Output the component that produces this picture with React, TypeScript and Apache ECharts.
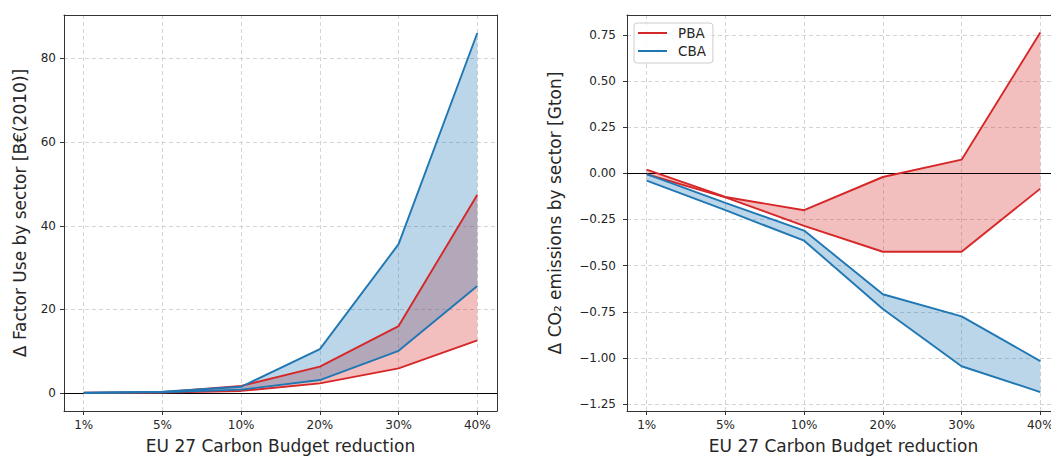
import React, { useEffect, useRef } from "react";
import * as echarts from "echarts";

const categories = ["1%", "5%", "10%", "20%", "30%", "40%"];
const categoryIdx = [0, 1, 2, 3, 4, 5];

// Left panel: Δ Factor Use by sector [B€(2010)]
const factorPbaHigh = [0.05, 0.2, 1.7, 6.3, 16.0, 47.4];
const factorPbaLow = [0.0, 0.1, 0.5, 2.3, 5.9, 12.6];
const factorCbaHigh = [0.1, 0.3, 1.5, 10.5, 35.6, 86.1];
const factorCbaLow = [0.0, 0.2, 0.8, 3.1, 10.1, 25.6];
const factorTicks = [0, 20, 40, 60, 80];

// Right panel: Δ CO2 emissions by sector [Gton]
const co2PbaA = [0.02, -0.128, -0.2, -0.02, 0.074, 0.763];
const co2PbaB = [-0.005, -0.13, -0.285, -0.425, -0.425, -0.083];
const co2CbaHigh = [-0.005, -0.16, -0.31, -0.655, -0.775, -1.017];
const co2CbaLow = [-0.04, -0.2, -0.365, -0.735, -1.045, -1.185];
const co2Ticks = [-1.25, -1.0, -0.75, -0.5, -0.25, 0, 0.25, 0.5, 0.75];

const RED = "#d62728";
const BLUE = "#1f77b4";
const RED_FILL = "rgba(214,39,40,0.3)";
const BLUE_FILL = "rgba(31,119,180,0.3)";
const FONT = "DejaVu Sans";
const FRAME = "#333333";
const GRIDC = "#d3d3d3";

const toPairs = (arr: number[]) => arr.map((v, i) => [categoryIdx[i], v]);

function fillSeries(name: string, a: number[], b: number[], axis: number, fill: string, z: number) {
  return {
    type: "custom",
    name: name + "_fill",
    xAxisIndex: axis,
    yAxisIndex: axis,
    z,
    silent: true,
    data: toPairs(a),
    encode: { x: 0, y: 1 },
    renderItem: (params: any, api: any) => {
      if (params.dataIndex !== 0) return null;
      const pts: number[][] = [];
      for (let i = 0; i < a.length; i++) pts.push(api.coord([categoryIdx[i], a[i]]));
      for (let i = b.length - 1; i >= 0; i--) pts.push(api.coord([categoryIdx[i], b[i]]));
      return { type: "polygon", shape: { points: pts }, style: { fill, stroke: "none" } };
    },
  };
}

function lineSeries(name: string, arr: number[], axis: number, color: string, z: number, extra: any = {}) {
  return {
    type: "line",
    name,
    xAxisIndex: axis,
    yAxisIndex: axis,
    z,
    data: toPairs(arr),
    showSymbol: false,
    symbol: "none",
    lineStyle: { color, width: 1.9 },
    itemStyle: { color },
    ...extra,
  };
}

const zeroLine = {
  silent: true,
  symbol: "none",
  label: { show: false },
  lineStyle: { color: "#000", width: 1.2, type: "solid" },
  data: [{ yAxis: 0 }],
};

function xAxes(gridIndex: number) {
  return [
    {
      type: "value",
      gridIndex,
      min: -0.25,
      max: 5.25,
      position: "bottom",
      axisLine: { show: true, onZero: false, lineStyle: { color: FRAME, width: 1 } },
      axisTick: { show: true, length: 4, customValues: categoryIdx, lineStyle: { color: FRAME } },
      axisLabel: {
        customValues: categoryIdx,
        formatter: (v: number) => categories[Math.round(v)] ?? "",
        fontFamily: FONT,
        fontSize: 12,
        color: "#262626",
        margin: 8,
      },
      splitLine: { show: true, lineStyle: { color: GRIDC, type: [4, 3], width: 1 } },
      name: "EU 27 Carbon Budget reduction",
      nameLocation: "middle",
      nameGap: 26,
      nameTextStyle: { fontFamily: FONT, fontSize: 17, color: "#262626" },
    },
    {
      type: "value",
      gridIndex,
      min: -0.25,
      max: 5.25,
      position: "top",
      axisLine: { show: true, onZero: false, lineStyle: { color: FRAME, width: 1 } },
      axisTick: { show: false },
      axisLabel: { show: false },
      splitLine: { show: false },
    },
  ];
}

function yAxes(gridIndex: number, min: number, max: number, ticks: number[], fmt: (v: number) => string, name: string, nameGap: number, margin: number) {
  return [
    {
      type: "value",
      gridIndex,
      min,
      max,
      position: "left",
      axisLine: { show: true, onZero: false, lineStyle: { color: FRAME, width: 1 } },
      axisTick: { show: true, length: 4, customValues: ticks, lineStyle: { color: FRAME } },
      axisLabel: {
        customValues: ticks,
        formatter: fmt,
        fontFamily: FONT,
        fontSize: 12,
        color: "#262626",
        margin,
      },
      splitLine: { show: true, lineStyle: { color: GRIDC, type: [4, 3], width: 1 } },
      name,
      nameLocation: "middle",
      nameGap,
      nameTextStyle: { fontFamily: FONT, fontSize: 17, color: "#262626" },
    },
    {
      type: "value",
      gridIndex,
      min,
      max,
      position: "right",
      axisLine: { show: true, onZero: false, lineStyle: { color: FRAME, width: 1 } },
      axisTick: { show: false },
      axisLabel: { show: false },
      splitLine: { show: false },
    },
  ];
}

const co2Fmt = (v: number) => (v < 0 ? "\u2212" : "") + Math.abs(v).toFixed(2);

export default function App() {
  const ref = useRef<HTMLDivElement>(null);
  useEffect(() => {
    if (!ref.current) return;
    const chart = echarts.init(ref.current, undefined, { renderer: "svg" });
    const option: any = {
      animation: false,
      backgroundColor: "#ffffff",
      grid: [
        { left: 64, top: 15, width: 433, height: 396, outerBoundsMode: "none", containLabel: false },
        { left: 627, top: 15, width: 433, height: 396, outerBoundsMode: "none", containLabel: false },
      ],
      xAxis: [...xAxes(0), ...xAxes(1)],
      yAxis: [
        ...yAxes(0, -4.3, 90.4, factorTicks, (v: number) => String(v), "\u0394 Factor Use by sector [B\u20ac(2010)]", 36, 8),
        ...yAxes(1, -1.2875, 0.8575, co2Ticks, co2Fmt, "\u0394 CO\u2082 emissions by sector [Gton]", 64, 11),
      ],
      legend: {
        data: ["PBA", "CBA"],
        orient: "vertical",
        left: 634,
        top: 23,
        icon: "rect",
        itemWidth: 29,
        itemHeight: 2,
        itemGap: 4,
        padding: [3, 7, 5, 4],
        borderColor: "#cccccc",
        borderWidth: 1,
        borderRadius: 3,
        backgroundColor: "rgba(255,255,255,0.8)",
        textStyle: { fontFamily: FONT, fontSize: 13.5, color: "#262626", padding: [0, 0, 0, 6] },
      },
      series: [
        // left panel
        fillSeries("PBA", factorPbaHigh, factorPbaLow, 0, RED_FILL, 1),
        fillSeries("CBA", factorCbaHigh, factorCbaLow, 0, BLUE_FILL, 2),
        lineSeries("PBA", factorPbaHigh, 0, RED, 5, { markLine: zeroLine }),
        lineSeries("PBA", factorPbaLow, 0, RED, 5),
        lineSeries("CBA", factorCbaHigh, 0, BLUE, 5),
        lineSeries("CBA", factorCbaLow, 0, BLUE, 5),
        // right panel
        fillSeries("PBA", co2PbaA, co2PbaB, 2, RED_FILL, 1),
        fillSeries("CBA", co2CbaHigh, co2CbaLow, 2, BLUE_FILL, 2),
        lineSeries("PBA", co2PbaA, 2, RED, 5, { markLine: zeroLine }),
        lineSeries("PBA", co2PbaB, 2, RED, 5),
        lineSeries("CBA", co2CbaHigh, 2, BLUE, 5),
        lineSeries("CBA", co2CbaLow, 2, BLUE, 5),
      ],
    };
    chart.setOption(option);
    return () => chart.dispose();
  }, []);
  return (
    <div
      ref={ref}
      style={{ position: "absolute", left: 0, top: 0, width: 1051, height: 456 }}
    />
  );
}
